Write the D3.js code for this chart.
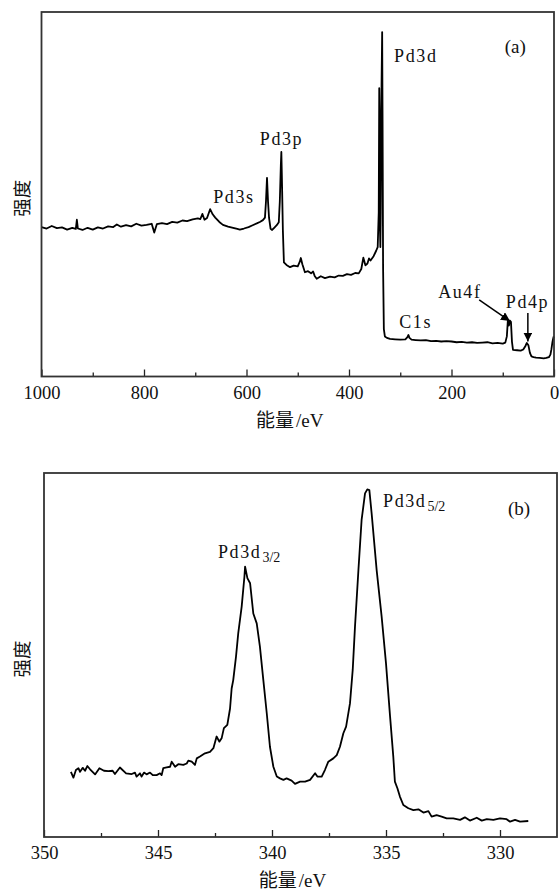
<!DOCTYPE html>
<html><head><meta charset="utf-8">
<script src="https://cdn.jsdelivr.net/npm/d3@7"></script>
<style>
html,body{margin:0;padding:0;background:#fff;}
svg{display:block;}
</style></head>
<body>
<svg id="chart" width="559" height="891"></svg>
<script>
// ---------- Data: (a) survey spectrum ----------
const surveyEnergy = [1000,990,980,970,960,950,940,933,931,929,920,910,900,890,880,870,860,853,845,835,825,815,805,795,785,780,775,765,755,745,735,725,716,705,695,690,686,682,677,671,666,661,653,646,636,626,618,613,605,596,588,580,574,568,564,562,560,558,556,553,550,546,541,537,535,533,532,531,529,527,522,515,508,500,496,494,491,486,480,474,470,467,463,455,447,437,428,420,412,404,396,388,381,376,372,368,364,361,358,352,347,344,342,341,340.2,339.5,338.8,338,336.5,335.3,334.5,333.5,332,330,326,320,310,300,290,286,284,282,278,270,260,250,240,230,220,210,200,190,180,170,160,150,140,130,120,110,100,95,92,90,88,86,84,82,80,72,65,60,56,53,50,47,44,40,35,28,20,15,10,7,5,3,1,0];
const surveyCounts = [41.0,40.6,41.3,40.7,40.9,40.3,40.8,40.5,43.0,40.6,40.2,40.8,40.3,40.9,40.6,41.2,41.0,41.7,41.1,41.5,41.2,41.9,41.4,41.6,41.9,39.5,41.8,42.1,41.8,42.4,42.2,42.8,42.6,43.1,43.4,43.2,44.6,43.0,43.5,45.9,44.5,43.6,42.4,41.6,41.1,40.8,40.5,40.3,40.6,41.0,41.5,42.0,42.4,42.9,43.6,48.0,54.5,48.0,43.5,40.5,40.2,40.8,41.5,42.3,48.0,58.0,61.6,55.0,40.0,31.3,30.6,30.0,30.4,30.2,31.5,32.5,30.8,28.6,28.9,28.3,28.8,27.6,26.8,27.5,27.0,27.4,27.2,27.7,27.6,28.1,27.9,28.4,28.3,29.5,32.6,30.5,31.0,32.4,31.8,33.0,34.5,35.5,45.0,79.1,72.0,40.0,35.5,45.0,80.0,94.5,70.0,30.0,13.0,11.0,10.6,10.3,10.2,10.1,10.2,10.8,11.4,10.6,10.1,10.0,9.9,10.0,9.7,9.8,9.6,9.7,9.6,9.4,9.5,9.3,9.4,9.2,9.3,9.4,9.1,9.2,9.0,9.3,11.0,15.5,14.0,15.3,15.0,9.5,7.3,7.2,7.1,7.4,8.3,9.2,8.6,6.5,5.5,5.3,5.2,5.1,5.0,5.1,5.3,6.0,7.5,9.5,10.8,11.0];
const surveyMajorTicks = [1000,800,600,400,200,0];
const surveyMinorTicks = [900,700,500,300,100];
const surveyLabels = [
  {text:"Pd3s", e:665, i:47.6},
  {text:"Pd3p", e:574, i:63.5},
  {text:"Pd3d", e:312, i:86.3},
  {text:"C1s",  e:302, i:13.3},
  {text:"Au4f", e:226, i:21.5},
  {text:"Pd4p", e:94,  i:18.8}
];
const surveyArrows = [
  {e1:146, i1:21.0, e2:86, i2:15.2},
  {e1:51,  i1:17.4, e2:51, i2:9.6}
];

// ---------- Data: (b) Pd 3d high-resolution ----------
const detailEnergy = [348.82,348.71,348.60,348.49,348.42,348.30,348.20,348.10,347.98,347.76,347.57,347.37,347.18,346.99,346.89,346.67,346.40,346.15,346.01,345.94,345.79,345.72,345.61,345.50,345.35,345.23,345.06,344.91,344.84,344.77,344.62,344.47,344.40,344.25,344.11,343.89,343.74,343.67,343.52,343.38,343.30,343.16,342.94,342.72,342.57,342.43,342.31,342.21,342.11,341.96,341.84,341.77,341.70,341.58,341.48,341.33,341.21,341.18,341.08,340.96,340.82,340.67,340.53,340.38,340.23,340.09,339.94,339.79,339.65,339.50,339.36,339.14,338.99,338.77,338.55,338.33,338.11,338.01,337.82,337.68,337.53,337.31,337.16,337.02,336.87,336.75,336.58,336.46,336.36,336.21,336.07,335.92,335.82,335.73,335.63,335.41,335.19,335.00,334.82,334.68,334.61,334.50,334.39,334.24,334.02,333.80,333.58,333.36,333.14,333.00,332.78,332.56,332.34,332.05,331.75,331.54,331.32,331.02,330.80,330.58,330.29,330.00,329.71,329.56,329.34,329.12,328.76];
const detailCounts = [17.9,16.3,18.4,18.9,17.9,19.0,18.2,19.5,18.6,17.2,18.9,18.2,18.1,18.2,17.3,19.1,17.5,17.3,17.7,16.6,17.5,16.6,17.7,17.2,17.7,17.0,17.0,17.5,17.0,18.9,19.1,19.3,20.7,19.3,20.0,19.8,20.2,21.0,20.7,19.8,21.6,22.1,23.0,23.4,24.4,27.6,26.2,27.1,29.9,30.8,35.3,40.8,43.1,49.5,56.0,63.3,71.5,74.3,71.1,69.7,61.4,58.7,52.3,43.1,34.0,24.8,19.3,16.6,16.1,15.7,16.1,15.5,14.6,15.2,15.2,15.7,17.5,16.6,16.6,18.4,20.7,21.6,22.5,24.8,28.5,30.3,36.7,45.9,57.8,73.3,87.1,94.4,95.5,95.3,88.9,73.3,60.5,47.7,33.0,22.1,15.2,13.4,11.1,8.8,7.9,7.4,7.6,6.7,7.1,5.6,6.0,5.6,5.1,5.1,4.7,5.4,4.5,5.3,4.5,4.9,4.7,5.1,4.9,4.2,4.7,4.2,4.4];
const detailMajorTicks = [350,345,340,335,330];
const detailMinorTicks = [347.5,342.5,337.5,332.5];
const detailLabels = [
  {main:"Pd3d", sub:"3/2", e:342.37, i:76.6},
  {main:"Pd3d", sub:"5/2", e:335.13, i:90.7}
];

const xTitle = "能量/eV";
const yTitle = "强度";

// ---------- Drawing ----------
const svg = d3.select("#chart");
const serif = "'Liberation Serif','DejaVu Serif','Noto Serif','Times New Roman',serif";
const cjk = "'Noto Sans CJK SC','Noto Sans CJK JP',sans-serif";

svg.append("defs").append("marker")
  .attr("id","arrow").attr("viewBox","0 0 10 10").attr("refX",10).attr("refY",5)
  .attr("markerWidth",9).attr("markerHeight",9).attr("markerUnits","userSpaceOnUse")
  .attr("orient","auto")
  .append("path").attr("d","M0,0 L10,5 L0,10 Z").attr("fill","#000");

function panel(cfg){
  const {left,right,top,bottom,domain,energy,counts,major,minor,fmt,tag,tagE,tagI} = cfg;
  const x = d3.scaleLinear().domain(domain).range([left,right]);
  const y = d3.scaleLinear().domain([0,100]).range([bottom,top]);
  const g = svg.append("g");

  const line = d3.line().x((d,k)=>x(energy[k])).y(d=>y(d));
  g.append("path").datum(counts).attr("d",line)
    .attr("fill","none").attr("stroke","#000").attr("stroke-width",1.8)
    .attr("stroke-linejoin","round");

  const axMaj = d3.axisBottom(x).tickValues(major).tickSize(-7).tickPadding(9).tickFormat(fmt);
  const ax = g.append("g").attr("transform",`translate(0,${bottom})`).call(axMaj);
  ax.attr("font-family",null);
  ax.select(".domain").remove();
  ax.selectAll(".tick line").attr("stroke","#222").attr("stroke-width",1.3);
  ax.selectAll(".tick text").style("font-family",serif).style("font-size","18.5px").attr("fill","#111");
  const axMin = d3.axisBottom(x).tickValues(minor).tickSize(-4).tickFormat("");
  const ax2 = g.append("g").attr("transform",`translate(0,${bottom})`).call(axMin);
  ax2.select(".domain").remove();
  ax2.selectAll(".tick line").attr("stroke","#222").attr("stroke-width",1.3);

  g.append("rect").attr("x",left).attr("y",top).attr("width",right-left).attr("height",bottom-top)
    .attr("fill","none").attr("stroke","#333").attr("stroke-width",1.8);

  g.append("text").attr("x",x(tagE)).attr("y",y(tagI)).text(tag)
    .style("font-family",serif).style("font-size","19px").attr("fill","#111");

  const cx = (left+right)/2 - 8;
  const t = g.append("text").attr("x",cx).attr("y",bottom+50).attr("text-anchor","middle")
    .style("font-size","19px").attr("fill","#111");
  t.append("tspan").style("font-family",cjk).text(xTitle.slice(0,2));
  t.append("tspan").style("font-family",serif).attr("dx",2).text(xTitle.slice(2));
  g.append("text").attr("transform",`translate(29,${(top+bottom)/2+4}) rotate(-90)`)
    .attr("text-anchor","middle").style("font-family",cjk).style("font-size","18.5px").attr("fill","#111")
    .text(yTitle);
  return {x,y,g};
}

const A = panel({left:41.5,right:554,top:12,bottom:376.5,domain:[1000,0],
  energy:surveyEnergy,counts:surveyCounts,major:surveyMajorTicks,minor:surveyMinorTicks,
  fmt:d3.format("d"),tag:"(a)",tagE:96,tagI:88.7});

A.g.selectAll(".lbl").data(surveyLabels).enter().append("text")
  .attr("x",d=>A.x(d.e)).attr("y",d=>A.y(d.i)).text(d=>d.text)
  .style("font-family",serif).style("font-size","18px").attr("letter-spacing",1.6).attr("fill","#111");
A.g.selectAll(".arr").data(surveyArrows).enter().append("line")
  .attr("x1",d=>A.x(d.e1)).attr("y1",d=>A.y(d.i1)).attr("x2",d=>A.x(d.e2)).attr("y2",d=>A.y(d.i2))
  .attr("stroke","#000").attr("stroke-width",1.5).attr("marker-end","url(#arrow)");

const B = panel({left:44,right:557,top:473,bottom:837,domain:[350,327.5],
  energy:detailEnergy,counts:detailCounts,major:detailMajorTicks,minor:detailMinorTicks,
  fmt:d3.format("d"),tag:"(b)",tagE:329.65,tagI:88.5});

const bl = B.g.selectAll(".lbl").data(detailLabels).enter().append("text")
  .attr("x",d=>B.x(d.e)).attr("y",d=>B.y(d.i))
  .style("font-family",serif).style("font-size","18px").attr("fill","#111");
bl.append("tspan").attr("letter-spacing",1.6).text(d=>d.main);
bl.append("tspan").style("font-size","14px").attr("dy",4).attr("dx",1).text(d=>d.sub);
</script>
</body></html>
